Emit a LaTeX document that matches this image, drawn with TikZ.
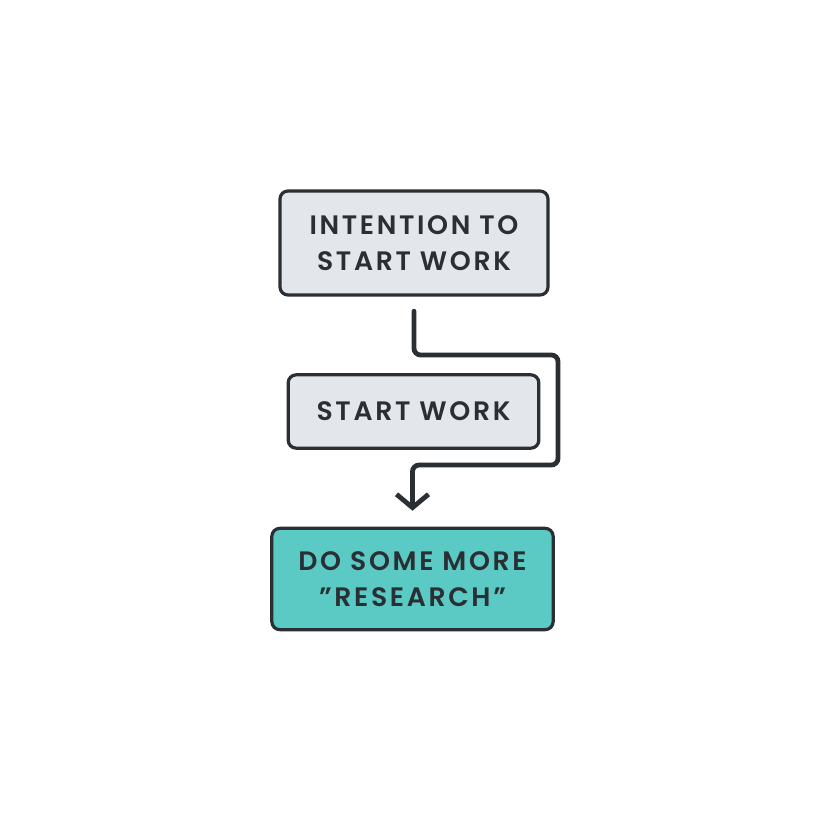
\documentclass[tikz,border=0pt]{standalone}
\usepackage{fontspec}
\setmainfont{Poppins}[LetterSpace=10, BoldFont={* SemiBold}]
\usetikzlibrary{arrows.meta}
\definecolor{inkdark}{HTML}{2A2F33}
\definecolor{boxgray}{HTML}{E3E6EA}
\definecolor{boxteal}{HTML}{5CCAC4}
\tikzset{
  stepbox/.style={draw=inkdark, line width=2.4pt, rounded corners=6pt, fill=boxgray,
    align=center, font=\fontsize{20}{27}\selectfont\bfseries, text=inkdark, inner sep=0pt},
  flow/.style={draw=inkdark, line width=3.6pt, rounded corners=5pt, line cap=round,
    -{Straight Barb[length=10pt, width=24pt, line width=3.6pt]}}
}

\begin{document}
\begin{tikzpicture}[x=0.75pt, y=-0.75pt]
		%%%%% START %%%%%
		\useasboundingbox[fill=white] (0, 0) rectangle (828, 816);
		
		\node[stepbox, minimum width=201pt, minimum height=78pt] (intent) at (414, 243) {INTENTION TO\\START WORK};
		\node[stepbox, minimum width=188pt, minimum height=55pt] (start) at (413.5, 411.5) {START WORK};
		\node[stepbox, fill=boxteal, minimum width=211pt, minimum height=76pt] (research) at (412.5, 579) {DO SOME MORE\\"RESEARCH"};
		
		\coordinate (bendtop) at (558, 355);
		\coordinate (bendbot) at (558, 465);
		\draw[flow, shorten <=11pt, shorten >=12pt] (intent.south) |- (bendtop) -- (bendbot) -| (research.north);
		%%%%% END %%%%%
	\end{tikzpicture}
\end{document}
